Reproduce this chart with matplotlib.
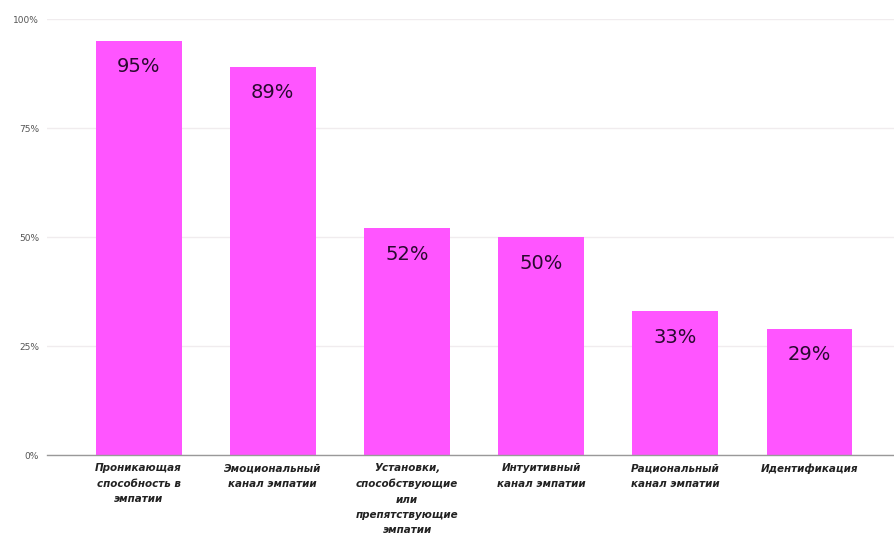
import matplotlib
matplotlib.use("Agg")
import matplotlib.pyplot as plt

categories = [
    "Проникающая\nспособность в\nэмпатии",
    "Эмоциональный\nканал эмпатии",
    "Установки,\nспособствующие\nили\nпрепятствующие\nэмпатии",
    "Интуитивный\nканал эмпатии",
    "Рациональный\nканал эмпатии",
    "Идентификация",
]
values = [95, 89, 52, 50, 33, 29]
yticks = [0, 25, 50, 75, 100]
ytick_labels = ["0%", "25%", "50%", "75%", "100%"]

plt.rcParams['font.family'] = ['DejaVu Sans']
fig = plt.figure(figsize=(8.94, 5.37), dpi=100)
ax = fig.add_axes([0.053, 0.1527, 0.947, 0.8119])

x = list(range(len(categories)))
bars = ax.bar(x, values, width=0.64, color="#FF55FF", zorder=2)
for xi, v in zip(x, values):
    ax.annotate(f"{v}%", xy=(xi, v), xytext=(0, -26), textcoords="offset pixels",
                ha="center", va="center", fontsize=14, color="#2a0a30", zorder=3)

ax.set_xlim(-0.68, 5.63)
ax.set_ylim(0, 100)
ax.set_yticks(yticks)
ax.set_yticklabels(ytick_labels, fontsize=6.5, color="#555555")
ax.set_xticks(x)
ax.set_xticklabels(categories, fontsize=7.5, fontstyle="italic", fontweight="bold",
                   color="#222222", linespacing=1.65)
ax.tick_params(axis="x", length=0, pad=6)
ax.tick_params(axis="y", length=0, pad=6)
ax.grid(axis="y", color="#f0ecee", linewidth=1, zorder=0)
for s in ["top", "right", "left"]:
    ax.spines[s].set_visible(False)
ax.spines["bottom"].set_color("#999999")
ax.spines["bottom"].set_linewidth(1)
ax.spines["bottom"].set_zorder(4)

fig.savefig("out.png", dpi=100)
